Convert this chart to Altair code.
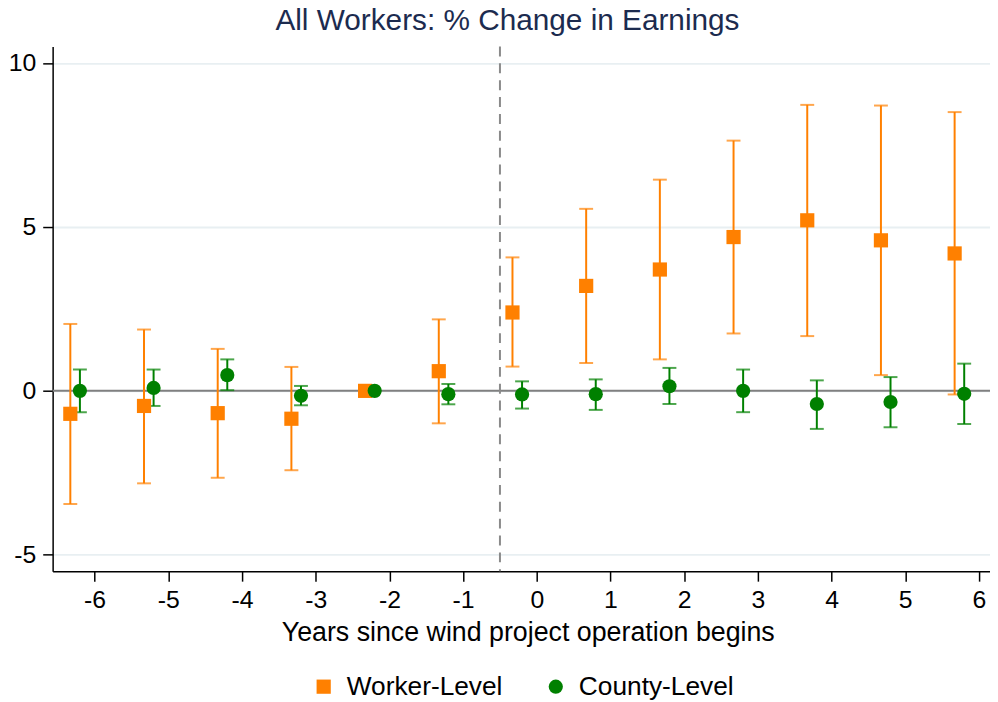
import altair as alt
import pandas as pd

years = [-6, -5, -4, -3, -2, -1, 0, 1, 2, 3, 4, 5, 6]
worker_est = [-0.70, -0.46, -0.68, -0.85, 0.0, 0.60, 2.39, 3.20, 3.70, 4.69, 5.20, 4.59, 4.19]
worker_lo = [-3.45, -2.82, -2.65, -2.42, None, -0.99, 0.74, 0.85, 0.96, 1.75, 1.67, 0.48, -0.11]
worker_hi = [2.04, 1.87, 1.28, 0.73, None, 2.18, 4.07, 5.55, 6.44, 7.63, 8.72, 8.70, 8.50]
county_est = [0.00, 0.09, 0.48, -0.15, 0.0, -0.10, -0.11, -0.10, 0.14, 0.00, -0.40, -0.34, -0.09]
county_lo = [-0.65, -0.46, 0.02, -0.44, None, -0.41, -0.54, -0.58, -0.40, -0.65, -1.16, -1.11, -1.01]
county_hi = [0.65, 0.65, 0.96, 0.15, None, 0.21, 0.29, 0.35, 0.70, 0.65, 0.32, 0.42, 0.83]

series = ["Worker-Level", "County-Level"]
offsets = {"Worker-Level": -0.33, "County-Level": -0.20}
colors = ["#ff8000", "#008000"]
shapes = ["square", "circle"]

rows = []
for name, est, lo, hi in [("Worker-Level", worker_est, worker_lo, worker_hi),
                          ("County-Level", county_est, county_lo, county_hi)]:
    for t, e, l, h in zip(years, est, lo, hi):
        rows.append({"series": name, "t": t, "x": t + offsets[name], "est": e, "lo": l, "hi": h})
df = pd.DataFrame(rows)

xscale = alt.Scale(domain=[-6.57, 6.15], nice=False, zero=False)
yscale = alt.Scale(domain=[-5.5, 10.5], nice=False, zero=False)
cscale = alt.Scale(domain=series, range=colors)
sscale = alt.Scale(domain=series, range=shapes)

base = alt.Chart(df)

axis_x = alt.Axis(values=years, title="Years since wind project operation begins",
                  labelExpr="'' + datum.value",
                  grid=False, tickSize=10, tickColor="black", domainColor="black",
                  domainWidth=1.5, tickWidth=1.5, labelFontSize=25, labelColor="black",
                  labelPadding=7, titleFontSize=27, titleColor="black", titleFontWeight="normal",
                  titlePadding=7, titleX=479, labelFont="Liberation Sans", titleFont="Liberation Sans")
axis_y = alt.Axis(values=[-5, 0, 5, 10], title=None, grid=True, gridColor="#e8eff2",
                  labelExpr="'' + datum.value",
                  gridWidth=2, tickSize=10, tickColor="black", domainColor="black",
                  domainWidth=1.5, tickWidth=1.5, labelFontSize=25, labelColor="black",
                  labelPadding=7, labelFont="Liberation Sans")

grid_layer = base.mark_point(opacity=0).encode(
    x=alt.X("x:Q", scale=xscale, axis=axis_x),
    y=alt.Y("est:Q", scale=yscale, axis=axis_y),
)

zero_df = pd.DataFrame({"y": [0]})
zero = alt.Chart(zero_df).mark_rule(color="#808080", strokeWidth=2).encode(
    y=alt.Y("y:Q", scale=yscale)
)
vline_df = pd.DataFrame({"x": [-0.5]})
vline = alt.Chart(vline_df).mark_rule(color="#8a8a8a", strokeWidth=2, strokeDash=[10, 7]).encode(
    x=alt.X("x:Q", scale=xscale)
)

layers = [grid_layer, zero, vline]
for name, col in zip(series, colors):
    sub = base.transform_filter(alt.datum.series == name).transform_filter("isValid(datum.lo)")
    bars = sub.mark_rule(color=col, strokeWidth=2).encode(
        x=alt.X("x:Q", scale=xscale), y=alt.Y("lo:Q", scale=yscale), y2="hi:Q")
    cap_lo = sub.mark_tick(color=col, thickness=2, size=14, orient="horizontal").encode(
        x=alt.X("x:Q", scale=xscale), y=alt.Y("lo:Q", scale=yscale))
    cap_hi = sub.mark_tick(color=col, thickness=2, size=14, orient="horizontal").encode(
        x=alt.X("x:Q", scale=xscale), y=alt.Y("hi:Q", scale=yscale))
    layers += [bars, cap_lo, cap_hi]

points = base.mark_point(filled=True, opacity=1, size=205).encode(
    x=alt.X("x:Q", scale=xscale),
    y=alt.Y("est:Q", scale=yscale),
    color=alt.Color("series:N", scale=cscale,
                    legend=alt.Legend(title=None, orient="none", legendX=260, legendY=632,
                                      direction="horizontal", labelFontSize=26.5,
                                      labelFont="Liberation Sans", labelColor="black",
                                      symbolSize=205, labelOffset=10, columnPadding=40,
                                      symbolStrokeWidth=0, padding=0)),
    shape=alt.Shape("series:N", scale=sscale),
    order=alt.Order("order:Q"),
).transform_calculate(order="datum.series == 'Worker-Level' ? 0 : 1")

layers.append(points)

chart = alt.layer(*layers).properties(
    width=945, height=529,
    padding={"left": 45, "top": 36, "right": 0, "bottom": 128},
    autosize=alt.AutoSizeParams(type="none"),
    title=alt.TitleParams("All Workers: % Change in Earnings", fontSize=30,
                          font="Liberation Sans", fontWeight="normal", color="#1c2b4f",
                          anchor="middle", baseline="bottom", offset=-20, dx=-14),
).configure_view(stroke=None).configure_axis(labelBound=False)

chart.save("out.html", embed_options={"renderer": "svg", "actions": False})
